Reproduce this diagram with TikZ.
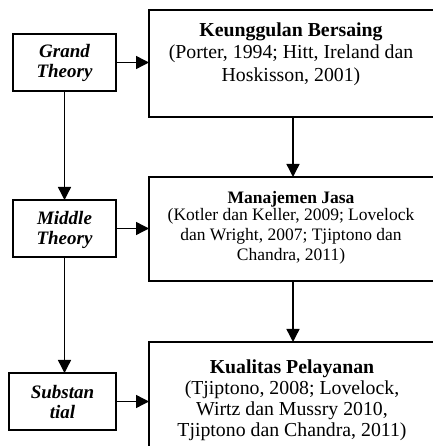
\documentclass[tikz,border=0pt]{standalone}
\usepackage{fontspec}
\setmainfont{Liberation Serif}
\usetikzlibrary{arrows.meta}
\begin{document}
\begin{tikzpicture}[x=1pt,y=1pt,
  framebox/.style={draw=black, line width=1.4pt, rectangle, inner sep=0pt, outer sep=0pt},
  conn/.style={draw=black, line width=1.4pt, -{Triangle[length=13pt,width=13pt]}},
  lbl/.style={align=center, inner sep=0pt, font=\fontsize{19}{20}\selectfont\bfseries\itshape},
  cite/.style={align=center, inner sep=0pt}
]
\useasboundingbox (0,0) rectangle (432,446);
% left boxes
\node[framebox, minimum width=103pt, minimum height=57pt] (g) at (64.5,383.5) {};
\node[framebox, minimum width=103pt, minimum height=57pt] (m) at (64.5,217.5) {};
\node[framebox, minimum width=107pt, minimum height=57pt] (s) at (62.5,44.5) {};
% big boxes
\node[framebox, minimum width=288pt, minimum height=107pt] (b1) at (293,382.5) {};
\node[framebox, minimum width=288pt, minimum height=104pt] (b2) at (293,217) {};
\node[framebox, minimum width=288pt, minimum height=118pt] (b3) at (293,45) {};
% labels
\node[lbl] (gt) at (64.5,383) {Grand\\Theory};
\node[lbl] (mt) at (64.5,216) {Middle\\Theory};
\node[lbl] (st) at (62.5,43.5) {Substan\\tial};
\node[cite, font=\fontsize{19.8}{22.5}\selectfont] (t1) at (291,392)
  {\textbf{Keunggulan Bersaing}\\(Porter, 1994; Hitt, Ireland dan\\Hoskisson, 2001)};
\node[cite, font=\fontsize{17.5}{20}\selectfont] (t2) at (291,218)
  {\textbf{Manajemen Jasa}\\[-3pt](Kotler dan Keller, 2009; Lovelock\\dan Wright, 2007; Tjiptono dan\\Chandra, 2011)};
\node[cite, font=\fontsize{19.8}{21}\selectfont] (t3) at (292,46)
  {\textbf{Kualitas Pelayanan}\\(Tjiptono, 2008; Lovelock,\\Wirtz dan Mussry 2010,\\Tjiptono dan Chandra, 2011)};
% connectors
\draw[conn] (g.east) -- (g.east -| b1.west);
\draw[conn] (m.east) -- (m.east -| b2.west);
\draw[conn] (s.east) -- (s.east -| b3.west);
\draw[conn] (g.south) -- (m.north);
\draw[conn] (m.south) -- (m.south |- s.north);
\draw[conn] (b1.south) -- (b2.north);
\draw[conn] (b2.south) -- (b3.north);
\end{tikzpicture}
\end{document}
